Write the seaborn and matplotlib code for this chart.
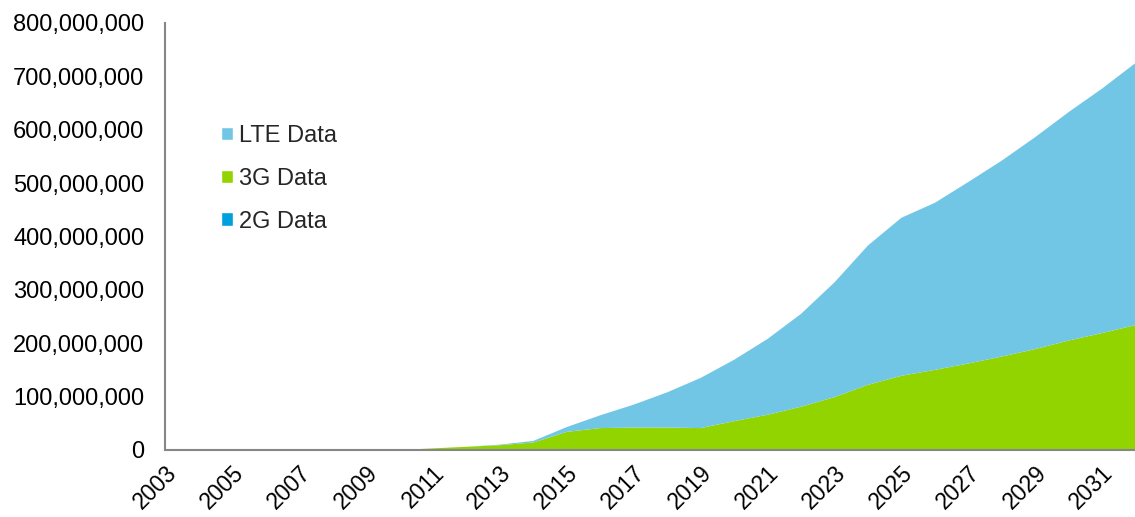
import matplotlib
matplotlib.use("Agg")
import matplotlib.pyplot as plt
import matplotlib.ticker as mticker
from matplotlib.patches import Patch
import seaborn as sns
import numpy as np

years = list(range(2003, 2033))
data_2g = [0] * 30
data_3g = [0, 0, 0, 0, 0, 0, 0, 1e6, 4e6, 7e6, 10e6, 15e6, 35e6, 42e6, 43e6, 43e6, 42e6,
           55e6, 67e6, 82e6, 100e6, 123e6, 140e6, 151e6, 163e6, 176e6, 190e6, 206e6, 220e6, 235e6]
data_lte = [0, 0, 0, 0, 0, 0, 0, 0, 0, 0, 1e6, 3e6, 9e6, 24e6, 43e6, 66e6, 94e6,
            115e6, 142e6, 174e6, 215e6, 261e6, 296e6, 313e6, 340e6, 367e6, 397e6, 428e6, 458e6, 491e6]
series_names = ["2G Data", "3G Data", "LTE Data"]
colors = ["#00A0DC", "#92D400", "#72C6E5"]
yticks = [0, 100e6, 200e6, 300e6, 400e6, 500e6, 600e6, 700e6, 800e6]

sns.set_style("white")
plt.rcParams['font.family'] = ['Liberation Sans', 'DejaVu Sans']

fig = plt.figure(figsize=(11.35, 5.17), dpi=100)
ax = fig.add_axes([165 / 1135, 67 / 517, (1135 - 165) / 1135, (450 - 23) / 517])

ax.stackplot(years, data_2g, data_3g, data_lte, colors=colors, labels=series_names, linewidth=0)

ax.set_xlim(years[0], years[-1])
ax.set_ylim(0, 800e6)
ax.set_yticks(yticks)
ax.yaxis.set_major_formatter(mticker.FuncFormatter(lambda v, p: f"{v:,.0f}"))
ax.set_xticks(years)
ax.set_xticklabels([str(y) if (y - 2003) % 2 == 0 else "" for y in years],
                   rotation=45, ha="right", rotation_mode="anchor")

gray = "#868686"
for s in ["top", "right"]:
    ax.spines[s].set_visible(False)
for s in ["left", "bottom"]:
    ax.spines[s].set_color(gray)
    ax.spines[s].set_linewidth(1.5)
ax.tick_params(axis="both", which="both", direction="out", length=7, width=1.5, color=gray,
               labelsize=17, labelcolor="black")
ax.tick_params(axis="y", pad=8)
ax.tick_params(axis="x", pad=1, labelsize=16.5)

handles = [Patch(facecolor=colors[i], label=series_names[i]) for i in [2, 1, 0]]
ax.legend(handles=handles, loc="upper left", bbox_to_anchor=(221 / 1135, 1 - 125 / 517),
          bbox_transform=fig.transFigure, frameon=False, borderpad=0, borderaxespad=0,
          fontsize=17, handlelength=0.5, handleheight=0.5, handletextpad=0.25, labelspacing=0.88)

fig.savefig("out.png", dpi=100)
